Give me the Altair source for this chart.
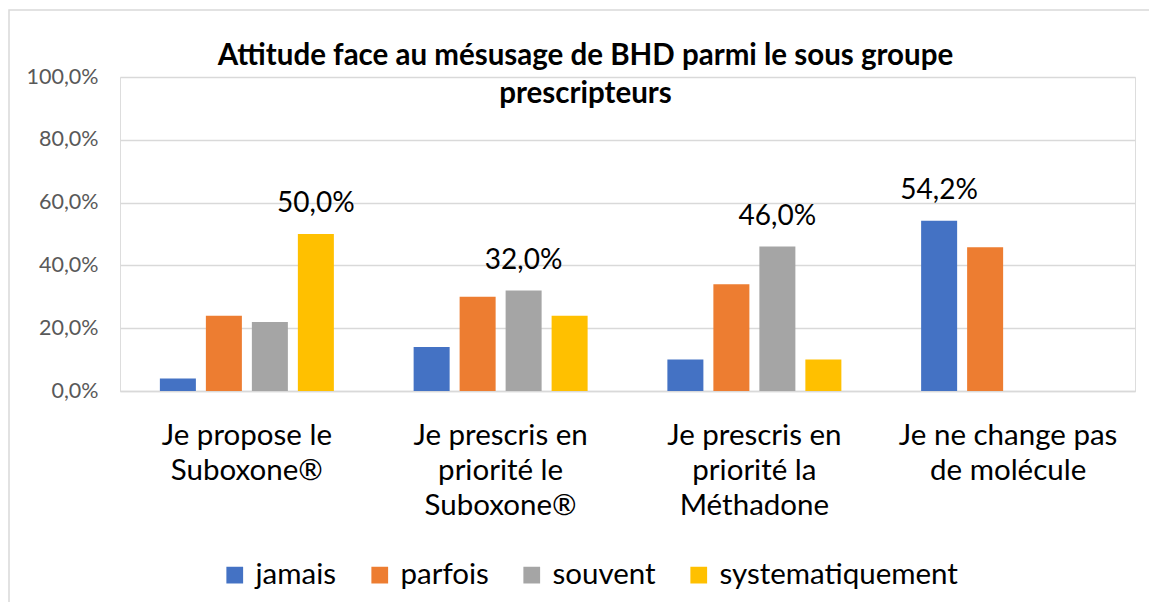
import altair as alt
import pandas as pd

categories = [
    "Je propose le\nSuboxone®",
    "Je prescris en\npriorité le\nSuboxone®",
    "Je prescris en\npriorité la\nMéthadone",
    "Je ne change pas\nde molécule",
]
series = ["jamais", "parfois", "souvent", "systematiquement"]
colors = ["#4472C4", "#ED7D31", "#A5A5A5", "#FFC000"]

jamais = [4.0, 14.0, 10.0, 54.2]
parfois = [24.0, 30.0, 34.0, 45.8]
souvent = [22.0, 32.0, 46.0, 0.0]
systematiquement = [50.0, 24.0, 10.0, 0.0]

y_ticks = [0, 20, 40, 60, 80, 100]
title_lines = ["Attitude face au mésusage de BHD parmi le sous groupe", "prescripteurs"]

rows = []
all_vals = [jamais, parfois, souvent, systematiquement]
for ci, cat in enumerate(categories):
    group_max = max(v[ci] for v in all_vals)
    for si, s in enumerate(series):
        v = all_vals[si][ci]
        rows.append({
            "cat": cat,
            "serie": s,
            "order": si,
            "value": v,
            "label": (f"{v:.1f}%").replace(".", ","),
            "show": v == group_max,
        })
df = pd.DataFrame(rows)

FONT = "Lato"

x_enc = alt.X("cat:N", sort=categories, title=None,
              scale=alt.Scale(paddingInner=0, paddingOuter=0),
              axis=alt.Axis(labelExpr="split(datum.label, '\\n')", labelAngle=0,
                            labelFontSize=29.5, labelLineHeight=35, labelColor="#000000",
                            labelFont=FONT, labelPadding=30, labelLimit=0, ticks=False,
                            domain=True, domainColor="#d9d9d9", domainWidth=1.5,
                            grid=False))
xoff = alt.XOffset("serie:N", sort=series,
                   scale=alt.Scale(paddingInner=0.217, paddingOuter=0.867))
y_enc = alt.Y("value:Q", title=None,
              scale=alt.Scale(domain=[0, 100], nice=False),
              axis=alt.Axis(values=y_ticks,
                            labelExpr="replace(format(datum.value, '.1f'), '.', ',') + '%'",
                            labelFontSize=21.5, labelColor="#595959", labelFont=FONT,
                            labelPadding=22, ticks=False, domain=False,
                            gridColor="#d9d9d9", gridWidth=1.5))

bars = alt.Chart(df).mark_bar(stroke=None).encode(
    x=x_enc,
    xOffset=xoff,
    y=y_enc,
    color=alt.Color("serie:N", sort=series,
                    scale=alt.Scale(domain=series, range=colors),
                    legend=alt.Legend(title=None, orient="none", direction="horizontal",
                                      legendX=100, legendY=483,
                                      symbolType="square", symbolSize=280,
                                      symbolStrokeWidth=0,
                                      labelFontSize=29.5, labelFont=FONT, labelLimit=0,
                                      labelColor="#000000", labelOffset=6,
                                      columnPadding=28)),
)

labels = alt.Chart(df).transform_filter("datum.show").mark_text(
    baseline="bottom", dy=-16, fontSize=28, font=FONT, color="#000000"
).encode(
    x=alt.X("cat:N", sort=categories),
    xOffset=alt.XOffset("serie:N", sort=series),
    y=alt.Y("value:Q"),
    text="label:N",
)

border = alt.Chart(df).mark_rect(fill=None, stroke="#d9d9d9", strokeWidth=1.5).encode(
    x=alt.value(-111), x2=alt.value(1030), y=alt.value(-67), y2=alt.value(528)
).transform_filter("datum.order == 0 && datum.cat == '" + categories[0].replace("\n", "\\n") + "'")

chart = alt.layer(border, bars, labels).properties(
    width=1015,
    height=314,
    title=alt.TitleParams(text=title_lines, fontSize=29.5, font=FONT, fontWeight="bold",
                          color="#000000", anchor="middle", frame="group",
                          dx=-42, dy=76, offset=-24, lineHeight=38),
    autosize=alt.AutoSizeParams(type="none"),
    padding={"left": 112, "top": 69, "right": 14, "bottom": 211},
).configure_view(stroke=None).configure(background="#ffffff")

chart.save("out.html", embed_options={"renderer": "svg", "actions": False})
